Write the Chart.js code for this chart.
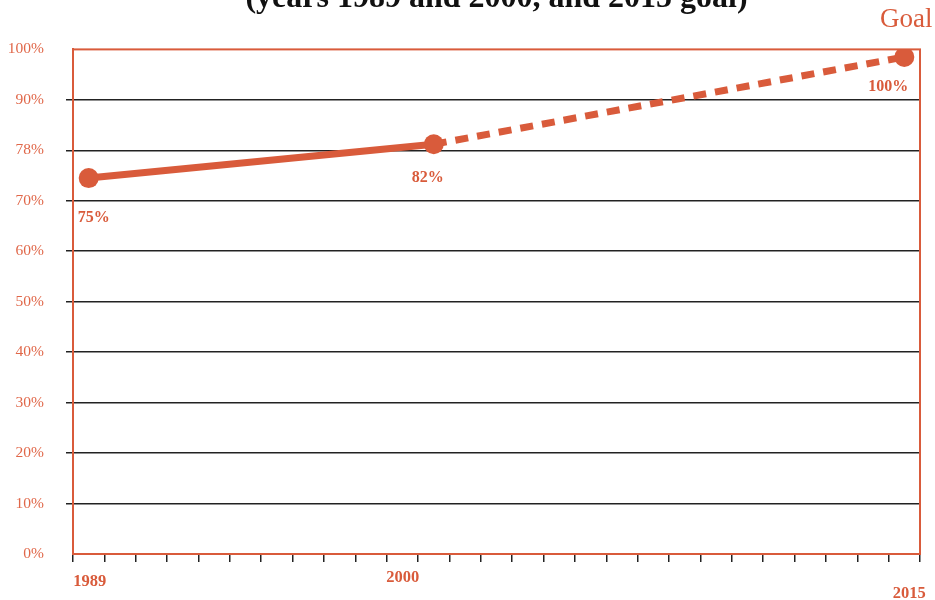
<!DOCTYPE html>
<html>
<head>
<meta charset="utf-8">
<title>Goal chart</title>
<script src="https://cdn.jsdelivr.net/npm/chart.js@4.4.1/dist/chart.umd.min.js"></script>
<style>
html, body { margin: 0; padding: 0; background: #fff; }
#wrap { width: 935px; height: 600px; overflow: hidden; position: relative; }
#chart { position: absolute; top: -20px; left: 0; }
</style>
</head>
<body>
<div id="wrap"><canvas id="chart" width="935" height="620"></canvas></div>
<script>
// categories (one slot per year on the x axis)
const years = ['1989', '1990', '1991', '1992', '1993', '1994', '1995', '1996', '1997',
               '1998', '1999', '2000', '2001', '2002', '2003', '2004', '2005', '2006',
               '2007', '2008', '2009', '2010', '2011', '2012', '2013', '2014', '2015'];

// the three marked points
const markYears = ['1989', '2000', '2015'];
const markValues = [74.5, 81.2, 98.5];
const markLabels = ['75%', '82%', '100%'];

// axis texts
const yTickLabels = ['0%', '10%', '20%', '30%', '40%', '50%', '60%', '70%', '78%', '90%', '100%'];
const xTickLabels = ['1989', '2000', '2015'];

const titleText = '(years 1989 and 2000, and 2015 goal)';
const goalText = 'Goal';

const LINE = '#d95b3b';
const TEXT = '#e06749';
const SERIF = '"Liberation Serif", "Times New Roman", serif';

// frame, point labels, "Goal" and the year labels
const annotate = {
    id: 'annotate',
    beforeDatasetsDraw(chart) {
        const { ctx, chartArea: a } = chart;
        ctx.save();
        ctx.strokeStyle = LINE;
        ctx.lineWidth = 2;
        ctx.strokeRect(a.left, a.top, a.right - a.left, a.bottom - a.top);
        ctx.restore();
    },
    afterDatasetsDraw(chart) {
        const { ctx, chartArea: a } = chart;
        const pts = chart.getDatasetMeta(0).data;
        const xs = chart.scales.x;
        const labelShift = [[5, 40], [-6, 34], [-16, 30]];
        const yearShift = [[1, 28], [-31, 24], [5, 40]];

        ctx.save();
        ctx.fillStyle = LINE;
        ctx.textAlign = 'center';
        ctx.textBaseline = 'middle';
        ctx.font = 'bold 16px ' + SERIF;
        pts.forEach((p, i) => {
            ctx.fillText(markLabels[i], p.x + labelShift[i][0], p.y + labelShift[i][1]);
        });

        const last = pts[pts.length - 1];
        ctx.font = '27px ' + SERIF;
        ctx.fillText(goalText, last.x + 2, last.y - 37);

        ctx.font = 'bold 16.5px ' + SERIF;
        xTickLabels.forEach((lab, i) => {
            const px = xs.getPixelForValue(years.indexOf(lab));
            ctx.fillText(lab, px + yearShift[i][0], a.bottom + yearShift[i][1]);
        });
        ctx.restore();
    }
};

const ctx = document.getElementById('chart').getContext('2d');
new Chart(ctx, {
    type: 'line',
    data: {
        labels: years,
        datasets: [{
            data: markYears.map((yr, i) => ({ x: yr, y: markValues[i] })),
            borderColor: LINE,
            backgroundColor: LINE,
            borderWidth: 7,
            pointRadius: 10,
            pointHoverRadius: 10,
            pointBorderWidth: 0,
            tension: 0,
            segment: {
                borderDash: c => c.p0DataIndex >= 1 ? [13, 9] : undefined
            }
        }]
    },
    options: {
        responsive: false,
        devicePixelRatio: 1,
        animation: false,
        layout: { padding: { top: 0, right: 15, bottom: 0, left: 0 } },
        plugins: {
            legend: { display: false },
            tooltip: { enabled: false },
            title: {
                display: true,
                fullSize: false,
                text: titleText,
                color: '#111',
                font: { family: SERIF, size: 32, weight: 'bold' },
                padding: { top: 0, bottom: 31 }
            }
        },
        scales: {
            x: {
                type: 'category',
                offset: true,
                afterFit: s => { s.height = 46; },
                ticks: { display: false, autoSkip: false },
                grid: {
                    offset: true,
                    drawOnChartArea: false,
                    drawTicks: true,
                    tickLength: 8,
                    color: '#222',
                    lineWidth: 1.5
                },
                border: { color: LINE, width: 2 }
            },
            y: {
                min: 0,
                max: 100,
                afterFit: s => { s.width = 73; },
                ticks: {
                    stepSize: 10,
                    padding: 22,
                    color: TEXT,
                    font: { family: SERIF, size: 15.5 },
                    callback: (v, i) => yTickLabels[i]
                },
                grid: {
                    color: c => (c.tick && (c.tick.value === 0 || c.tick.value === 100)) ? 'rgba(0,0,0,0)' : '#222',
                    lineWidth: 1.5,
                    tickLength: 7
                },
                border: { color: LINE, width: 2 }
            }
        }
    },
    plugins: [annotate]
});
</script>
</body>
</html>
